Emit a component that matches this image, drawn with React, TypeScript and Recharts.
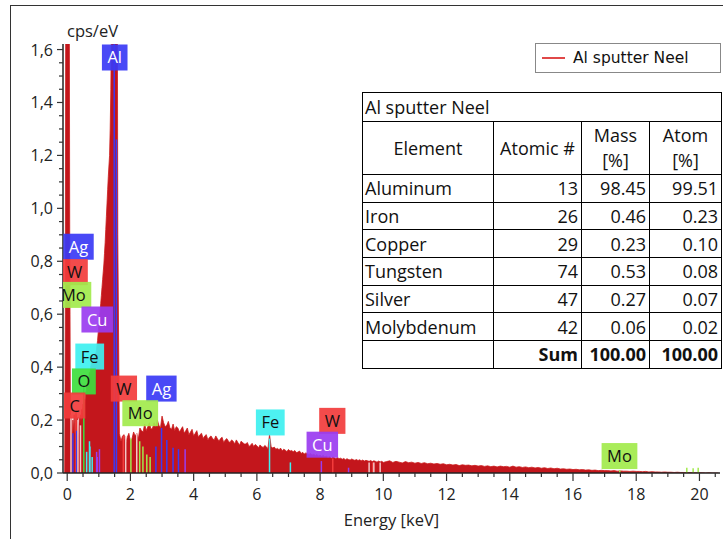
import { ComposedChart, Area, XAxis, YAxis, ReferenceLine, Scatter, Label } from 'recharts';

const FONT = '"Open Sans", Lato, sans-serif';

// spectrum, cps/eV (three energy ranges, different sampling)
const peakStart = -0.1;
const peakStep = 0.02;
const spectrumPeak = [
  0, 0, 0.6, 2.4, 3, 3, 3, 3, 2.2, 0.9,
  0.24, 0.17, 0.21, 0.12, 0.2, 0.16, 0.22, 0.15, 0.19, 0.23,
  0.18, 0.21, 0.14, 0.17, 0.21, 0.19, 0.22, 0.2, 0.24, 0.22,
  0.26, 0.25, 0.28, 0.27, 0.3, 0.31, 0.33, 0.32, 0.35, 0.36,
  0.38, 0.37, 0.4, 0.41, 0.42, 0.43, 0.43, 0.44, 0.44, 0.45,
  0.45, 0.46, 0.48, 0.5, 0.53, 0.56, 0.58, 0.61, 0.64, 0.67,
  0.7, 0.73, 0.76, 0.79, 0.83, 0.87, 0.92, 0.97, 1.02, 1.07,
  1.12, 1.16, 1.2, 1.3, 1.45, 1.7, 2.4, 3, 3, 3,
  3, 3, 3, 3, 2.2, 0.9,
];

const midStart = 1.65;
const midStep = 0.05;
const spectrumMid = [
  0.15, 0.12, 0.14, 0.145, 0.11, 0.135, 0.15, 0.12, 0.13, 0.155,
  0.14, 0.15, 0.13, 0.17, 0.16, 0.155, 0.185, 0.16, 0.175, 0.19,
  0.165, 0.17, 0.19, 0.175, 0.2, 0.18, 0.17, 0.215, 0.19, 0.175,
  0.18, 0.195, 0.17, 0.165, 0.185, 0.16, 0.175, 0.17, 0.155, 0.165,
  0.175, 0.15, 0.16, 0.17, 0.145, 0.155, 0.165, 0.14, 0.15, 0.16,
  0.135, 0.145, 0.15, 0.13, 0.14, 0.145, 0.125, 0.135, 0.14, 0.13,
  0.125, 0.14, 0.13, 0.12, 0.13, 0.135, 0.115, 0.125, 0.13, 0.12,
  0.115, 0.125, 0.12, 0.11, 0.125, 0.115, 0.105, 0.12, 0.115, 0.11,
  0.11, 0.115, 0.1, 0.105, 0.112, 0.1, 0.108, 0.103, 0.095, 0.106,
  0.1, 0.096, 0.104, 0.099, 0.092, 0.145, 0.1, 0.094, 0.098, 0.09,
  0.093, 0.088, 0.094, 0.084, 0.09, 0.086, 0.081, 0.089, 0.083, 0.085,
  0.08, 0.085, 0.077, 0.079, 0.083, 0.074, 0.078, 0.072, 0.076, 0.073,
  0.07, 0.074, 0.068, 0.071, 0.066, 0.07, 0.064, 0.067, 0.063, 0.066,
  0.061, 0.064, 0.059, 0.062, 0.056, 0.06, 0.058, 0.055, 0.059, 0.054,
  0.056, 0.052, 0.055, 0.05, 0.054, 0.051, 0.049, 0.053, 0.05, 0.048,
  0.051, 0.047, 0.05, 0.046, 0.049, 0.045, 0.048, 0.046, 0.044, 0.047,
  0.043, 0.046, 0.044, 0.041, 0.045, 0.042, 0.044, 0.04,
];

const tailStart = 10.1;
const tailStep = 0.1;
const spectrumTail = [
  0.043, 0.046, 0.04, 0.044, 0.041, 0.038, 0.043, 0.039, 0.041, 0.037,
  0.04, 0.036, 0.039, 0.035, 0.037, 0.034, 0.036, 0.033, 0.035, 0.031,
  0.033, 0.03, 0.032, 0.028, 0.031, 0.029, 0.03, 0.027, 0.029, 0.026,
  0.028, 0.025, 0.027, 0.024, 0.026, 0.023, 0.026, 0.024, 0.025, 0.022,
  0.026, 0.022, 0.024, 0.021, 0.023, 0.02, 0.022, 0.019, 0.021, 0.018,
  0.02, 0.017, 0.019, 0.016, 0.018, 0.015, 0.016, 0.014, 0.015, 0.013,
  0.014, 0.012, 0.013, 0.011, 0.012, 0.01, 0.011, 0.009, 0.01, 0.009,
  0.009, 0.008, 0.009, 0.007, 0.008, 0.007, 0.007, 0.006, 0.007, 0.006,
  0.006, 0.005, 0.006, 0.004, 0.005, 0.004, 0.004, 0.003, 0.004, 0.003,
  0.003, 0.002, 0.003, 0.002, 0.002, 0.001, 0.002, 0.001, 0.001, 0.001,
  0.001, 0, 0.001, 0, 0, 0,
];

// element marker lines (keV, height in cps/eV, element)
const markerEnergy = [
  1.487, 1.557, 0.277, 0.525, 0.18, 0.3, 0.615, 0.705, 0.718, 0.79,
  0.93, 0.95, 1.02, 1.775, 2.015, 2.293, 2.395, 2.518, 2.623, 2.806,
  2.984, 3.151, 3.348, 3.52, 3.73, 6.4, 7.06, 8.04, 8.9, 8.4,
  9.67, 17.48, 19.6, 19.8, 19.96,
  0.12, 0.34, 0.42, 1.85, 2.2, 9.55, 9.7, 9.9,
];
const markerHeight = [
  3, 1.26, 0.21, 0.33, 0.15, 0.16, 0.08, 0.12, 0.1, 0.06,
  0.08, 0.06, 0.09, 0.14, 0.13, 0.12, 0.1, 0.07, 0.06, 0.1,
  0.17, 0.125, 0.095, 0.09, 0.09, 0.13, 0.04, 0.045, 0.02, 0.055,
  0.04, 0.01, 0.02, 0.018, 0.02,
  0.22, 0.2, 0.18, 0.14, 0.15, 0.04, 0.04, 0.04,
];
const markerElement = [
  'Al', 'Al', 'C', 'O', 'Ag', 'Ag', 'Fe', 'Fe', 'Fe', 'Fe',
  'Cu', 'Cu', 'Cu', 'W', 'Mo', 'Mo', 'Mo', 'Mo', 'Mo', 'Ag',
  'Ag', 'Ag', 'Ag', 'Ag', 'Cu', 'Fe', 'Fe', 'Cu', 'Cu', 'W',
  'W', 'Mo', 'Mo', 'Mo', 'Mo',
  '-', '-', '-', '-', '-', '-', '-', '-',
];

// element label boxes (name, keV, cps/eV at box centre)
const labelNames = ['Al', 'Ag', 'W', 'Mo', 'Cu', 'Fe', 'O', 'C', 'W', 'Ag', 'Mo', 'Fe', 'W', 'Cu', 'Mo'];
const labelEnergy = [1.503, 0.358, 0.237, 0.196, 0.949, 0.712, 0.528, 0.237, 1.794, 2.98, 2.31, 6.424, 8.386, 8.07, 17.47];
const labelLevel = [1.57, 0.855, 0.759, 0.673, 0.58, 0.44, 0.346, 0.255, 0.319, 0.319, 0.226, 0.191, 0.197, 0.107, 0.064];

const elementColor: Record<string, string> = {
  Al: '#3a3af5', Ag: '#3a3af5', W: '#f23c3c', C: '#f23c3c', Mo: '#a2ea4c',
  O: '#3ede3e', Cu: '#9a3cf0', Fe: '#3ef0f0', '-': '#f3c6c6',
};
const whiteText = ['Al', 'Ag', 'Cu'];

// quantification table
const tableTitle = 'Al sputter Neel';
const elementNames = ['Aluminum', 'Iron', 'Copper', 'Tungsten', 'Silver', 'Molybdenum'];
const atomicNumbers = ['13', '26', '29', '74', '47', '42'];
const massPercent = ['98.45', '0.46', '0.23', '0.53', '0.27', '0.06'];
const atomPercent = ['99.51', '0.23', '0.10', '0.08', '0.07', '0.02'];
const massSum = '100.00';
const atomSum = '100.00';

const xMajor = [0, 2, 4, 6, 8, 10, 12, 14, 16, 18, 20];
const yMajor = [0, 0.2, 0.4, 0.6, 0.8, 1.0, 1.2, 1.4, 1.6];

const xTicks: number[] = [];
for (let i = 0; i <= 41; i++) xTicks.push(i * 0.5);
const yTicks: number[] = [];
for (let i = 0; i <= 32; i++) yTicks.push(+(i * 0.05).toFixed(2));

const spectrum: { energy: number; counts: number }[] = [];
spectrumPeak.forEach((v, i) => spectrum.push({ energy: +(peakStart + i * peakStep).toFixed(3), counts: v }));
spectrumMid.forEach((v, i) => spectrum.push({ energy: +(midStart + i * midStep).toFixed(3), counts: v }));
spectrumTail.forEach((v, i) => spectrum.push({ energy: +(tailStart + i * tailStep).toFixed(3), counts: v }));

const labelData = labelNames.map((name, i) => ({ name, energy: labelEnergy[i], value: labelLevel[i] }));

let ctx: CanvasRenderingContext2D | null = null;
function textWidth(s: string, font: string) {
  if (!ctx) ctx = document.createElement('canvas').getContext('2d');
  if (!ctx) return s.length * 10;
  ctx.font = font;
  return ctx.measureText(s).width;
}

function XTick({ x, y, payload }: any) {
  const v = payload.value;
  const major = xMajor.some((m) => Math.abs(m - v) < 1e-6);
  return (
    <g>
      <line x1={x} x2={x} y1={y} y2={y + (major ? 8 : 4)} stroke="#333" strokeWidth={1.2} />
      {major && (
        <text x={x} y={y + 27} textAnchor="middle" fontSize={16} fill="#222" fontFamily={FONT}>{v}</text>
      )}
    </g>
  );
}

function YTick({ x, y, payload }: any) {
  const v = payload.value;
  const major = yMajor.some((m) => Math.abs(m - v) < 1e-6);
  return (
    <g>
      <line x1={x - (major ? 6 : 4)} x2={x} y1={y} y2={y} stroke="#333" strokeWidth={1.2} />
      {major && (
        <text x={x - 10} y={y + 6} textAnchor="end" fontSize={16} fill="#222" fontFamily={FONT}>
          {v.toFixed(1).replace('.', ',')}
        </text>
      )}
    </g>
  );
}

function LabelBox(props: any) {
  const { cx, cy, payload } = props;
  if (cx == null || cy == null) return null;
  const name: string = payload.name;
  const w = textWidth(name, `16.5px ${FONT}`) + 11;
  const h = 26;
  return (
    <g>
      <rect x={cx - w / 2} y={cy - h / 2} width={w} height={h} fill={elementColor[name]} fillOpacity={0.92} />
      <text x={cx} y={cy + 6} textAnchor="middle" fontSize={16.5} fontFamily={FONT}
        fill={whiteText.includes(name) ? '#fff' : '#111'}>{name}</text>
    </g>
  );
}

const cell: React.CSSProperties = {
  border: '1.5px solid #000', padding: '0 4px', height: 27.7, boxSizing: 'border-box',
  fontSize: 18, lineHeight: '22px', whiteSpace: 'nowrap',
};
const num: React.CSSProperties = { ...cell, textAlign: 'right', padding: '0 3px' };

export default function App() {
  return (
    <div style={{ position: 'absolute', left: 0, top: 0, width: 723, height: 539, overflow: 'hidden', background: '#fff' }}>
      <div style={{ position: 'absolute', left: 10, top: 5, width: 900, height: 900, border: '1.5px solid #333' }} />
      <div style={{ position: 'absolute', left: 0, top: 0 }}>
        <ComposedChart width={723} height={539} data={spectrum} margin={{ top: 44, right: 3, bottom: 36, left: 13 }}>
          <XAxis dataKey="energy" type="number" domain={[-0.133, 20.65]} allowDataOverflow ticks={xTicks}
            interval={0} tickLine={false} tickSize={0} tickMargin={0} tick={<XTick />} height={30}
            axisLine={{ stroke: '#222', strokeWidth: 1.5 }}>
            <Label value="Energy [keV]" position="bottom" offset={11} fontSize={16.5} fill="#222" fontFamily={FONT} />
          </XAxis>
          <YAxis type="number" domain={[0, 1.621]} allowDataOverflow ticks={yTicks} interval={0}
            tickLine={false} tickSize={0} tickMargin={0} tick={<YTick />} width={50}
            axisLine={{ stroke: '#222', strokeWidth: 1.5 }}>
            <Label content={(p: any) => (
              <text x={p.viewBox.x + p.viewBox.width + 4} y={p.viewBox.y - 7} fontSize={16.5} fill="#222" fontFamily={FONT}>cps/eV</text>
            )} />
          </YAxis>
          <XAxis xAxisId="top" orientation="top" type="number" domain={[-0.133, 20.65]} allowDataOverflow
            height={0} tick={false} tickLine={false} axisLine={{ stroke: '#666', strokeWidth: 1.5 }} />
          <YAxis yAxisId="right" orientation="right" type="number" domain={[0, 1.621]} allowDataOverflow
            width={0} tick={false} tickLine={false} axisLine={{ stroke: '#666', strokeWidth: 1.5 }} />
          <Area type="linear" dataKey="counts" stroke="#cc1d1d" strokeWidth={0.8} fill="#c3161c" fillOpacity={1}
            isAnimationActive={false} />
          {markerEnergy.map((e, i) => (
            <ReferenceLine key={i} segment={[{ x: e, y: 0 }, { x: e, y: markerHeight[i] }]}
              stroke={elementColor[markerElement[i]]} strokeWidth={1.5} ifOverflow="hidden" />
          ))}
          <Scatter data={labelData} dataKey="value" shape={(p: any) => <LabelBox {...p} />} isAnimationActive={false} />
        </ComposedChart>
      </div>

      <div style={{
        position: 'absolute', left: 535, top: 43, width: 186, height: 30, boxSizing: 'border-box',
        border: '1px solid #888', background: '#fff', display: 'flex', alignItems: 'center',
        fontFamily: '"DejaVu Sans", sans-serif', fontSize: 15.5, color: '#111',
      }}>
        <div style={{ width: 23, height: 2, background: '#e04848', marginLeft: 6, marginRight: 8 }} />
        <span>Al sputter Neel</span>
      </div>

      <table style={{
        position: 'absolute', left: 362, top: 92, width: 359, borderCollapse: 'collapse',
        tableLayout: 'fixed', background: '#fff', fontFamily: FONT, color: '#111',
      }}>
        <colgroup>
          <col style={{ width: 131 }} />
          <col style={{ width: 88 }} />
          <col style={{ width: 68 }} />
          <col style={{ width: 72 }} />
        </colgroup>
        <tbody>
          <tr><td colSpan={4} style={{ ...cell, height: 29, padding: '0 2px' }}>{tableTitle}</td></tr>
          <tr>
            <td style={{ ...cell, height: 53, textAlign: 'center' }}>Element</td>
            <td style={{ ...cell, height: 53, textAlign: 'center' }}>Atomic #</td>
            <td style={{ ...cell, height: 53, textAlign: 'center', lineHeight: '25px' }}>Mass<br />[%]</td>
            <td style={{ ...cell, height: 53, textAlign: 'center', lineHeight: '25px' }}>Atom<br />[%]</td>
          </tr>
          {elementNames.map((n, i) => (
            <tr key={n}>
              <td style={{ ...cell, padding: '0 2px' }}>{n}</td>
              <td style={num}>{atomicNumbers[i]}</td>
              <td style={num}>{massPercent[i]}</td>
              <td style={num}>{atomPercent[i]}</td>
            </tr>
          ))}
          <tr>
            <td style={cell}></td>
            <td style={{ ...num, fontWeight: 700 }}>Sum</td>
            <td style={{ ...num, fontWeight: 700 }}>{massSum}</td>
            <td style={{ ...num, fontWeight: 700 }}>{atomSum}</td>
          </tr>
        </tbody>
      </table>
    </div>
  );
}
